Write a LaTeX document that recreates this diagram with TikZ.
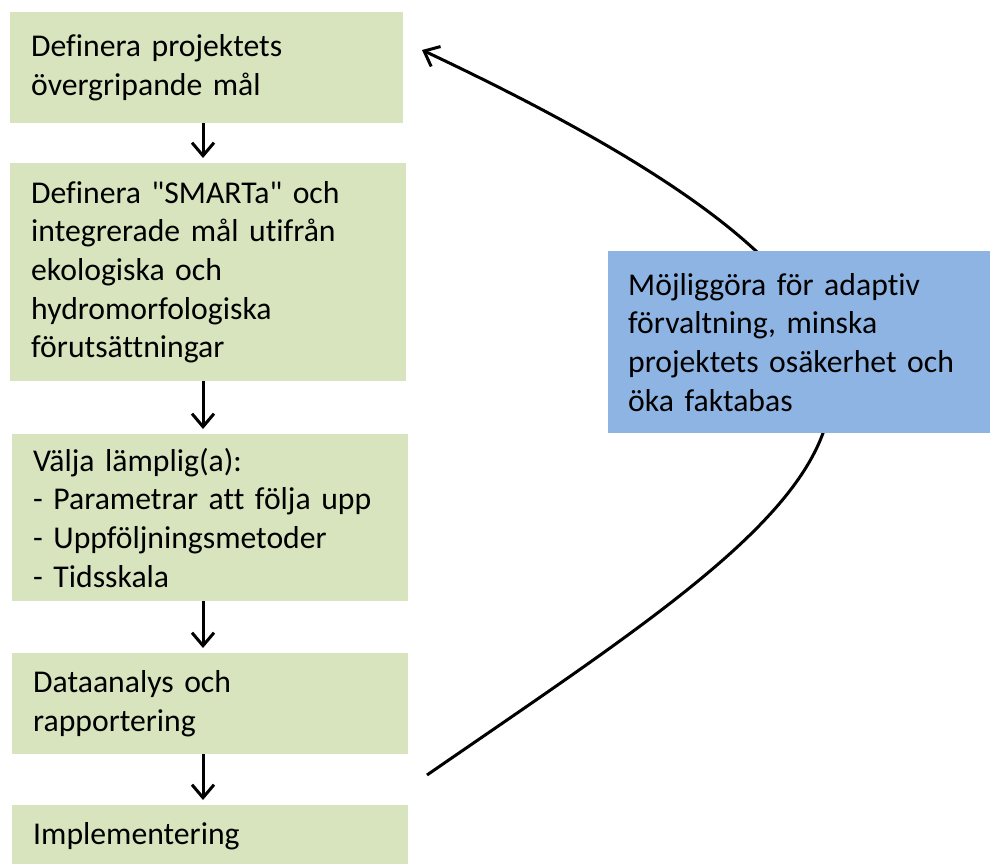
\documentclass[tikz,border=0pt]{standalone}
\usepackage{fontspec}
\newfontfamily\boxfont{Carlito}[Ligatures=NoCommon]
\definecolor{stepgreen}{HTML}{D7E4BD}
\definecolor{adaptblue}{HTML}{8EB4E3}
\usetikzlibrary{arrows.meta, calc, positioning}

\begin{document}
\begin{tikzpicture}[x=1pt, y=-1pt,
		stepbox/.style={fill=stepgreen, anchor=north west, inner xsep=21pt, inner ysep=0pt,
			text width=354pt, align=left, font=\boxfont\fontsize{31.7}{38.7}\selectfont},
		infobox/.style={fill=adaptblue, anchor=north west, inner xsep=20pt, inner ysep=0pt,
			text width=342pt, align=left, font=\boxfont\fontsize{31.7}{38.7}\selectfont},
		pil/.style={line width=3pt, -{Straight Barb[length=13pt, width=22pt]}}]
			\clip (0,0) rectangle (990,864);
			% Steps
			\node[stepbox, text width=351pt, minimum height=111pt] (b1) at (10,12)
				{Definera projektets\\övergripande mål};
			\node[stepbox, minimum height=218pt] (b2) at (10,163)
				{Definera "SMARTa" och\\integrerade mål utifrån\\ekologiska och\\hydromorfologiska\\förutsättningar};
			\node[stepbox, minimum height=167pt] (b3) at (12,434)
				{Välja lämplig(a):\\- Parametrar att följa upp\\- Uppföljningsmetoder\\- Tidsskala};
			\node[stepbox, minimum height=101pt] (b4) at (12,653)
				{Dataanalys och\\rapportering};
			\node[stepbox, minimum height=62pt] (b5) at (12,805)
				{Implementering};
			
			% Arrows
			\coordinate (axel) at (203,0);
			\foreach \a/\b in {b1/b2, b2/b3, b3/b4, b4/b5}
			{
				\draw[pil, shorten >=5pt] (axel |- \a.south) -- (axel |- \b.north);
			}
			
			% Feedback loop
			\coordinate (fra) at (427,775);
			\coordinate (till) at (422,50);
			\draw[pil] (fra) .. controls (840,490) and (1080,360) .. (till);
			\node[infobox, minimum height=182pt] (adapt) at (608,251)
				{Möjliggöra för adaptiv\\förvaltning, minska\\projektets osäkerhet och\\öka faktabas};
			
		\end{tikzpicture}
\end{document}
